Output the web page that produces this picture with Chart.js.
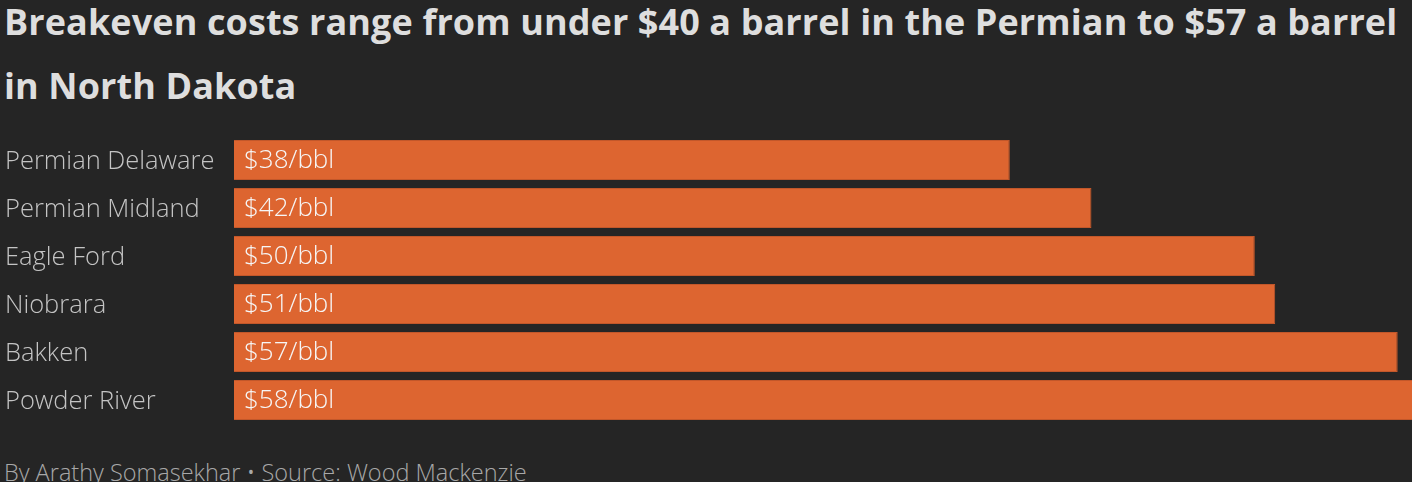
<!DOCTYPE html>
<html>
<head>
<meta charset="utf-8">
<script src="https://cdn.jsdelivr.net/npm/chart.js@4"></script>
<style>
  html, body { margin: 0; padding: 0; background: #252525; width: 1412px; height: 482px; overflow: hidden; }
  h1 {
    position: absolute; left: 4px; top: -10px; margin: 0; width: 1408px;
    font-family: "Open Sans", sans-serif; font-weight: 700; font-size: 36px;
    line-height: 64px; color: #dedede; white-space: nowrap; letter-spacing: 0.1px;
  }
  #wrap { position: absolute; left: 0; top: 130px; width: 1412px; height: 300px; }
  .foot {
    position: absolute; left: 4px; top: 456px; margin: 0;
    font-family: "Open Sans", sans-serif; font-weight: 300; font-size: 23.5px;
    color: #a8a8a8; white-space: nowrap;
  }
</style>
</head>
<body>
<h1>Breakeven costs range from under $40 a barrel in the Permian to $57 a barrel<br>in North Dakota</h1>
<div id="wrap"><canvas id="chart"></canvas></div>
<p class="foot">By Arathy Somasekhar • Source: Wood Mackenzie</p>
<script>
// basins and breakeven cost ($/bbl)
const basins = ['Permian Delaware', 'Permian Midland', 'Eagle Ford', 'Niobrara', 'Bakken', 'Powder River'];
const breakeven = [38, 42, 50, 51, 57, 58];
const valueLabels = ['$38/bbl', '$42/bbl', '$50/bbl', '$51/bbl', '$57/bbl', '$58/bbl'];

const FAMILY = '"Open Sans", sans-serif';

// writes the value inside each bar, near its start
const insideLabels = {
  id: 'insideLabels',
  afterDatasetsDraw(chart) {
    const { ctx } = chart;
    const meta = chart.getDatasetMeta(0);
    ctx.save();
    ctx.font = `300 26px ${FAMILY}`;
    ctx.fillStyle = '#f6f6f6';
    ctx.textBaseline = 'middle';
    ctx.textAlign = 'left';
    meta.data.forEach((bar, i) => {
      ctx.fillText(valueLabels[i], bar.base + 10, bar.y + 1);
    });
    ctx.restore();
  },
};

new Chart(document.getElementById('chart'), {
  type: 'bar',
  data: {
    labels: basins,
    datasets: [{
      data: breakeven,
      backgroundColor: '#dd6530',
      borderColor: '#c2572a',
      borderWidth: 1,
      borderSkipped: 'start',
      categoryPercentage: 1,
      barPercentage: 40 / 48,
    }],
  },
  options: {
    indexAxis: 'y',
    responsive: true,
    maintainAspectRatio: false,
    animation: false,
    layout: { padding: { left: 5, right: 0, top: 6, bottom: 6 } },
    plugins: { legend: { display: false }, tooltip: { enabled: false } },
    scales: {
      x: { display: false, min: 0, max: 57.7 },
      y: {
        grid: { display: false },
        border: { display: false },
        ticks: {
          color: '#c4c4c4',
          font: { family: FAMILY, size: 25.5, weight: '300' },
          crossAlign: 'far',
          padding: 0,
          labelOffset: 2,
        },
        afterFit(axis) {
          axis.width = 229;
          axis.paddingTop = 0;
          axis.paddingBottom = 0;
        },
      },
    },
  },
  plugins: [insideLabels],
});
</script>
</body>
</html>
